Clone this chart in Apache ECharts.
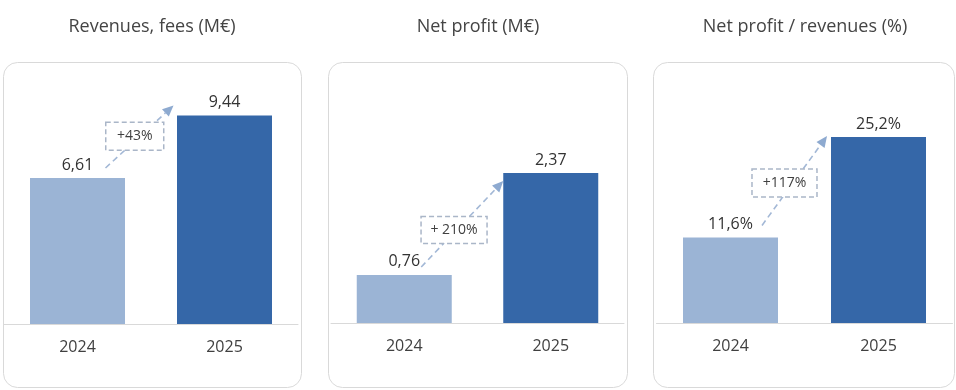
<!DOCTYPE html>
<html><head><meta charset="utf-8">
<script src="https://cdn.jsdelivr.net/npm/echarts@6/dist/echarts.min.js"></script>
<style>html,body{margin:0;padding:0;background:#fff}#c{width:956px;height:390px}</style>
</head><body><div id="c"></div>
<script>
// ---- data ----
const categories = ['2024', '2025'];
const revenues = [6.61, 9.44];
const netProfit = [0.76, 2.37];
const netMargin = [11.6, 25.2];
const growthLabels = ['+43%', '+ 210%', '+117%'];
const titles = ['Revenues, fees (M€)', 'Net profit (M€)', 'Net profit / revenues (%)'];
const valueSuffix = ['', '', '%'];

// ---- layout / style ----
const seriesData = [revenues, netProfit, netMargin];
const yMax = [11.5, 4, 34.3];
const grids = [
  {left: 4, width: 294, top: 70, height: 254},
  {left: 331, width: 293, top: 70, height: 253},
  {left: 656.5, width: 296, top: 70, height: 253}
];
const boxes = [
  {x: 3.5, y: 62.5, w: 298, h: 325},
  {x: 328.5, y: 62.5, w: 299, h: 325},
  {x: 653.5, y: 62.5, w: 301, h: 325}
];
const titleCenters = [152, 478, 805];
// arrow offsets relative to the bar tops, box placement along arrow
const arrowCfg = [
  {s: [28, -10], e: [-51, -10], t: 0.43, dy: -5, w: 58, h: 28},
  {s: [17, -8], e: [-47.5, 8], t: 0.40, dy: -2.5, w: 66, h: 27},
  {s: [31.5, -12], e: [-51.5, -1], t: 0.346, dy: -11.5, w: 65, h: 28}
];
const lightBlue = '#9bb4d5';
const darkBlue = '#3567a8';
const FONT = '"Open Sans", sans-serif';
const TXT = '#333333';

const chart = echarts.init(document.getElementById('c'));

function fmt(v, i) {
  return v.toFixed(i === 2 ? 1 : 2).replace('.', ',') + valueSuffix[i];
}

const option = {
  animation: false,
  textStyle: {fontFamily: FONT},
  grid: grids.map(g => Object.assign({containLabel: false}, g)),
  xAxis: grids.map((g, i) => ({
    type: 'category', gridIndex: i, data: categories,
    axisLine: {lineStyle: {color: '#d9d9d9', width: 1}},
    axisTick: {show: false},
    axisLabel: {color: '#404040', fontSize: 16, margin: 15, fontFamily: FONT}
  })),
  yAxis: grids.map((g, i) => ({
    type: 'value', gridIndex: i, min: 0, max: yMax[i], show: false,
    splitLine: {show: false}
  })),
  series: seriesData.map((d, i) => ({
    type: 'bar', xAxisIndex: i, yAxisIndex: i, barWidth: 95,
    data: d.map((v, k) => ({value: v, itemStyle: {color: k === 0 ? lightBlue : darkBlue}})),
    label: {
      show: true, position: 'top', distance: 5, color: TXT, fontSize: 16, fontFamily: FONT,
      formatter: p => fmt(p.value, i)
    }
  })),
  graphic: []
};
chart.setOption(option);

const gfx = [];
boxes.forEach((b, i) => {
  gfx.push({type: 'rect', z: -10, shape: {x: b.x, y: b.y, width: b.w, height: b.h, r: 14},
    style: {fill: 'none', stroke: '#d9d9d9', lineWidth: 1}});
  gfx.push({type: 'text', x: titleCenters[i], y: 27,
    style: {text: titles[i], fill: '#444444', font: '18px ' + FONT, textAlign: 'center', textVerticalAlign: 'middle'}});
});
seriesData.forEach((d, i) => {
  const p0 = chart.convertToPixel({gridIndex: i}, [0, d[0]]);
  const p1 = chart.convertToPixel({gridIndex: i}, [1, d[1]]);
  const c = arrowCfg[i];
  const sx = p0[0] + c.s[0], sy = p0[1] + c.s[1];
  const ex = p1[0] + c.e[0], ey = p1[1] + c.e[1];
  const ang = Math.atan2(ey - sy, ex - sx);
  const L = 11, W = 5;
  const bx = ex - L * Math.cos(ang), by = ey - L * Math.sin(ang);
  gfx.push({type: 'line', z: 10, shape: {x1: sx, y1: sy, x2: bx, y2: by},
    style: {stroke: '#a3b8d6', lineWidth: 1.6, lineDash: [6, 4]}});
  gfx.push({type: 'polygon', z: 10, shape: {points: [
    [ex, ey],
    [bx - W * Math.sin(ang), by + W * Math.cos(ang)],
    [bx + W * Math.sin(ang), by - W * Math.cos(ang)]
  ]}, style: {fill: '#8eaad0'}});
  const cx = sx + (ex - sx) * c.t, cy = sy + (ey - sy) * c.t + c.dy;
  gfx.push({type: 'rect', z: 11, shape: {x: cx - c.w / 2, y: cy - c.h / 2, width: c.w, height: c.h},
    style: {fill: '#fff', stroke: '#aab6c8', lineWidth: 1.5, lineDash: [5, 3]}});
  gfx.push({type: 'text', z: 12, x: cx, y: cy,
    style: {text: growthLabels[i], fill: '#404040', font: '14px ' + FONT, textAlign: 'center', textVerticalAlign: 'middle'}});
});
chart.setOption({graphic: gfx});
</script>
</body></html>
